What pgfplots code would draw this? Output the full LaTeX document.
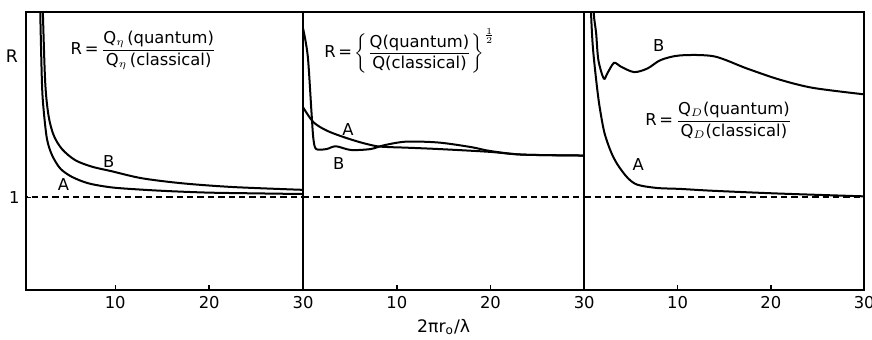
\documentclass[border=0pt]{standalone}
\usepackage{amsmath}
\usepackage{pgfplots}
\pgfplotsset{compat=1.18}
\usepackage{fontspec}
\setmainfont{DejaVu Sans}

% shared look of the three panels
\pgfplotsset{
  panel/.style={
    scale only axis, height=153pt,
    xmax=30, ymin=0, ymax=3,
    xtick={10,20,30}, ytick=\empty,
    xtick pos=bottom, tick align=inside, major tick length=3pt,
    axis line style={line width=1pt},
    tick style={line width=0.8pt, black},
    /pgf/number format/assume math mode=true,
    tick label style={font=\fontsize{9}{11}\selectfont},
    label style={font=\fontsize{9.5}{11}\selectfont},
    every axis plot/.append style={no markers},
  },
  curve/.style={black, line width=1.1pt, smooth, tension=0.5},
  unity/.style={black, line width=0.9pt, dash pattern=on 3.5pt off 2.2pt},
}
\tikzset{lab/.style={font=\fontsize{9}{11}\selectfont}}

\begin{document}
\begin{tikzpicture}
\useasboundingbox (-14.3pt,-27.5pt) rectangle (465.3pt,159.5pt);

% viscosity cross section
\begin{axis}[panel, name=p1, width=152.4pt, xmin=0.5,
    ytick={1}, ytick pos=left,
    ylabel={R}, ylabel style={at={(rel axis cs:0,0.84)}, rotate=-90,
      anchor=center, xshift=-7.7pt}]
  \addplot[unity] coordinates {(0,1) (30,1)};
  \addplot[curve] coordinates {
    (1.98,3.3) (2.02,2.98) (2.2,2.23) (2.37,1.95) (2.73,1.63) (3.27,1.455)
    (4.15,1.31) (5.39,1.22) (7.16,1.15) (9.65,1.106) (12.84,1.082)
    (16,1.065) (20,1.05) (25,1.042) (30,1.035)};
  \addplot[curve] coordinates {
    (2.24,3.3) (2.3,2.98) (2.55,2.23) (2.9,1.88) (3.44,1.67) (4.33,1.52)
    (5.74,1.40) (7.52,1.33) (9.65,1.28) (12.84,1.205) (17.2,1.15)
    (22.6,1.11) (30,1.08)};
  \node[lab] at (axis cs:4.5,1.135) {A};
  \node[lab] at (axis cs:9.3,1.39) {B};
  \node[lab] at (axis cs:13.0,2.585)
    {R\,=\,$\dfrac{\mbox{Q$_\eta$\,(quantum)}}{\mbox{Q$_\eta$\,(classical)}}$};
\end{axis}

% total cross section, square root
\begin{axis}[panel, name=p2, width=154.6pt, xmin=0,
    at={(p1.south east)}, anchor=south west,
    xlabel={2πr\textsubscript{o}/λ}, xlabel style={at={(rel axis cs:0.5,0)},
      anchor=center, yshift=-20.4pt}]
  \addplot[unity] coordinates {(0,1) (30,1)};
  \addplot[curve] coordinates {
    (0,1.97) (1.1,1.81) (2.5,1.72) (4.3,1.65) (6.2,1.59) (7.9,1.55)
    (9.5,1.54) (11,1.535) (14.5,1.52) (19.9,1.49) (23.4,1.46) (30,1.45)};
  \addplot[curve] coordinates {
    (0,2.82) (0.5,2.52) (0.9,1.91) (1.1,1.63) (1.4,1.52) (2.5,1.52)
    (3.5,1.55) (5.1,1.51) (7.2,1.52) (8.6,1.56) (11,1.60) (14.5,1.59)
    (18,1.54) (19.9,1.50) (23.4,1.46) (30,1.45)};
  \node[lab] at (axis cs:4.8,1.73) {A};
  \node[lab] at (axis cs:3.8,1.36) {B};
  \node[lab] at (axis cs:11.4,2.58)
    {R\,=\,$\left\{\dfrac{\mbox{Q(quantum)}}{\mbox{Q(classical)}}\right\}^{\frac12}$};
\end{axis}

% diffusion cross section
\begin{axis}[panel, name=p3, width=154pt, xmin=0,
    at={(p2.south east)}, anchor=south west]
  \addplot[unity] coordinates {(0,1) (30,1)};
  \addplot[curve] coordinates {
    (0.7,3.3) (0.74,2.98) (0.93,2.62) (1.28,2.27) (1.63,1.99) (2.16,1.70)
    (2.87,1.49) (3.59,1.35) (4.65,1.21) (5.71,1.135) (7.84,1.10)
    (10.3,1.09) (13.8,1.07) (20.9,1.04) (30,1.01)};
  \addplot[curve] coordinates {
    (1.0,3.3) (1.03,2.98) (1.28,2.77) (1.52,2.48) (2.1,2.28) (2.5,2.34)
    (3.2,2.45) (3.9,2.41) (5.35,2.35) (6.8,2.39) (8.2,2.48) (10.3,2.53)
    (13.9,2.52) (17.4,2.39) (20.9,2.27) (24.5,2.18) (30,2.11)};
  \node[lab] at (axis cs:5.8,1.35) {A};
  \node[lab] at (axis cs:8.0,2.64) {B};
  \node[lab] at (axis cs:14.4,1.83)
    {R\,=\,$\dfrac{\mbox{Q$_D$(quantum)}}{\mbox{Q$_D$(classical)}}$};
\end{axis}
\end{tikzpicture}
\end{document}
